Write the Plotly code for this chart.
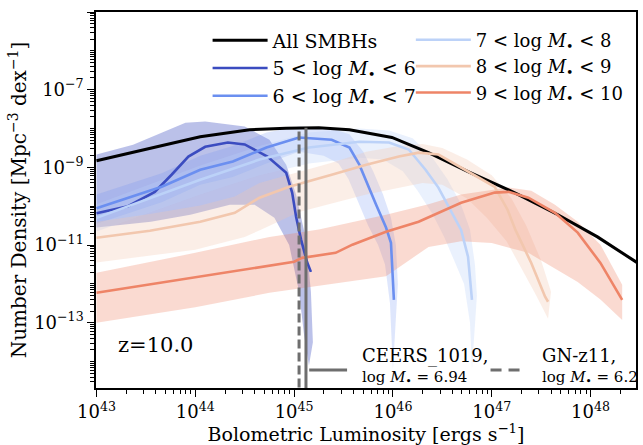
import plotly.graph_objects as go

# ---------------- data (log10 values) ----------------
all_L   = [43.0, 43.37, 43.71, 44.05, 44.55, 44.92, 45.25, 45.56, 45.99, 46.36, 46.76, 47.17, 47.27, 47.67, 48.07, 48.47]
all_phi = [-8.83, -8.62, -8.41, -8.21, -8.03, -7.99, -7.98, -8.03, -8.23, -8.62, -9.11, -9.58, -9.70, -10.22, -10.79, -11.45]

m56_L   = [43.0, 43.32, 43.59, 43.76, 43.93, 44.10, 44.33, 44.50, 44.73, 44.92, 44.98, 45.02, 45.07, 45.13, 45.17]
m56_phi = [-10.18, -10.0, -9.63, -9.19, -8.72, -8.47, -8.36, -8.41, -8.72, -9.14, -9.65, -10.27, -10.86, -11.43, -11.69]
m56_hi_L   = [43.0, 43.37, 43.9, 44.1, 44.5, 44.75, 44.92, 45.02, 45.12, 45.17, 45.19]
m56_hi_phi = [-8.67, -8.42, -7.85, -7.82, -7.95, -8.29, -8.93, -9.7, -10.86, -12.2, -13.5]
m56_lo_L   = [43.0, 43.55, 43.95, 44.35, 44.6, 44.8, 44.95, 45.05, 45.1, 45.15]
m56_lo_phi = [-10.55, -10.4, -10.22, -9.96, -9.96, -10.3, -11.0, -12.2, -13.3, -14.1]

m67_L   = [43.0, 43.66, 44.05, 44.38, 44.72, 45.05, 45.38, 45.56, 45.66, 45.73, 45.83, 45.93, 45.98, 46.01]
m67_phi = [-10.05, -9.5, -9.06, -8.85, -8.49, -8.23, -8.29, -8.49, -8.93, -9.37, -9.96, -10.55, -10.94, -12.41]
m67_hi_L   = [43.0, 43.66, 44.05, 44.38, 44.72, 45.05, 45.38, 45.56, 45.7, 45.8, 45.9, 45.98, 46.03, 46.05]
m67_hi_phi = [-9.7, -9.15, -8.7, -8.45, -8.1, -7.95, -8.0, -8.15, -8.6, -9.1, -9.7, -10.3, -11.0, -12.0]
m67_lo_L   = [43.0, 43.66, 44.05, 44.38, 44.72, 45.05, 45.3, 45.45, 45.55, 45.65, 45.75, 45.85, 45.92, 45.97, 46.0]
m67_lo_phi = [-10.45, -9.9, -9.45, -9.25, -8.9, -8.6, -8.7, -8.9, -9.3, -9.9, -10.5, -11.0, -11.5, -12.5, -14.2]

m78_L   = [43.0, 44.05, 44.65, 45.15, 45.66, 45.96, 46.16, 46.33, 46.46, 46.56, 46.69, 46.76, 46.80]
m78_phi = [-10.3, -9.32, -8.80, -8.49, -8.34, -8.36, -8.54, -9.06, -9.52, -10.01, -10.61, -11.30, -12.41]
m78_hi_L   = [43.0, 44.05, 44.65, 45.15, 45.66, 45.96, 46.2, 46.4, 46.55, 46.68, 46.78, 46.83, 46.85]
m78_hi_phi = [-9.95, -8.95, -8.45, -8.1, -8.0, -8.05, -8.25, -8.75, -9.3, -9.9, -10.6, -11.5, -12.3]
m78_lo_L   = [43.0, 44.05, 44.65, 45.15, 45.66, 45.9, 46.1, 46.25, 46.4, 46.52, 46.62, 46.72, 46.78, 46.8]
m78_lo_phi = [-10.65, -9.7, -9.2, -8.9, -8.75, -8.8, -9.1, -9.6, -10.2, -10.8, -11.4, -12.0, -13.0, -14.2]

m89_L   = [43.0, 43.54, 44.05, 44.40, 44.65, 44.95, 45.38, 45.73, 46.06, 46.26, 46.46, 46.69, 47.03, 47.16, 47.24, 47.40, 47.54, 47.57]
m89_phi = [-10.81, -10.63, -10.40, -10.17, -9.78, -9.50, -9.19, -8.93, -8.72, -8.62, -8.67, -9.01, -9.50, -10.09, -10.61, -11.46, -12.33, -12.46]
m89_hi_L   = [43.0, 43.54, 44.05, 44.40, 44.65, 44.95, 45.38, 45.73, 46.06, 46.3, 46.5, 46.75, 47.0, 47.2, 47.35, 47.5, 47.6]
m89_hi_phi = [-10.4, -10.2, -9.98, -9.75, -9.4, -9.18, -8.88, -8.6, -8.45, -8.4, -8.5, -8.8, -9.2, -9.8, -10.5, -11.4, -12.2]
m89_lo_L   = [43.0, 44.0, 44.5, 44.67, 45.05, 45.73, 46.3, 46.5, 46.75, 46.95, 47.15, 47.3, 47.45, 47.57]
m89_lo_phi = [-11.45, -11.12, -10.79, -10.6, -10.15, -9.7, -9.4, -9.45, -9.8, -10.3, -10.9, -11.6, -12.3, -12.9]

m910_L   = [43.0, 44.05, 45.0, 45.08, 45.42, 45.59, 45.93, 46.26, 46.69, 47.03, 47.17, 47.37, 47.64, 47.87, 48.10, 48.32]
m910_phi = [-12.23, -11.82, -11.43, -11.33, -11.20, -10.99, -10.66, -10.40, -9.91, -9.65, -9.63, -9.78, -10.17, -10.68, -11.46, -12.41]
m910_hi_L   = [43.0, 44.0, 44.75, 45.25, 45.93, 46.36, 46.69, 47.17, 47.4, 47.64, 47.87, 48.10, 48.32]
m910_hi_phi = [-11.71, -11.2, -10.79, -10.6, -10.22, -9.95, -9.70, -9.52, -9.6, -9.96, -10.4, -10.99, -12.02]
m910_lo_L   = [43.0, 44.0, 44.75, 45.25, 45.93, 46.36, 46.69, 47.0, 47.37, 47.87, 48.1, 48.32]
m910_lo_phi = [-13.0, -12.6, -12.23, -12.05, -11.8, -11.05, -10.9, -10.95, -11.2, -11.95, -12.4, -12.93]

labels = ["All SMBHs",
          "5 < log <i>M</i><sub>•</sub> < 6",
          "6 < log <i>M</i><sub>•</sub> < 7",
          "7 < log <i>M</i><sub>•</sub> < 8",
          "8 < log <i>M</i><sub>•</sub> < 9",
          "9 < log <i>M</i><sub>•</sub> < 10"]

ceers_logL = 45.12
gnz11_logL = 45.05
source_top_logphi = -7.98
bottom_logphi = -15.0

x_ticks = [43, 44, 45, 46, 47, 48]
y_ticks = [-5, -7, -9, -11, -13]

# ---------------- styling ----------------
FONT = "DejaVu Serif"
line_colors = ["#000000", "#3b4cc0", "#6b8ff0", "#bcd2f8", "#f2c7ae", "#ee8467"]
band_colors = [None,
               "rgba(59,76,192,0.35)",
               "rgba(107,143,240,0.22)",
               "rgba(185,208,249,0.30)",
               "rgba(242,200,176,0.30)",
               "rgba(240,132,103,0.30)"]

def p10(v):
    return [10 ** a for a in v]

fig = go.Figure()

series = [
    (all_L, all_phi, None),
    (m56_L, m56_phi, (m56_hi_L, m56_hi_phi, m56_lo_L, m56_lo_phi)),
    (m67_L, m67_phi, (m67_hi_L, m67_hi_phi, m67_lo_L, m67_lo_phi)),
    (m78_L, m78_phi, (m78_hi_L, m78_hi_phi, m78_lo_L, m78_lo_phi)),
    (m89_L, m89_phi, (m89_hi_L, m89_hi_phi, m89_lo_L, m89_lo_phi)),
    (m910_L, m910_phi, (m910_hi_L, m910_hi_phi, m910_lo_L, m910_lo_phi)),
]

# bands
for i, (L, phi, band) in enumerate(series):
    if band is None:
        continue
    hL, hP, lL, lP = band
    xs = p10(hL) + p10(lL[::-1])
    ys = p10(hP) + p10(lP[::-1])
    fig.add_trace(go.Scatter(x=xs, y=ys, mode="lines", fill="toself",
                             fillcolor=band_colors[i], line=dict(width=0),
                             showlegend=False, hoverinfo="skip"))

# lines
for i, (L, phi, band) in enumerate(series):
    fig.add_trace(go.Scatter(x=p10(L), y=p10(phi), mode="lines",
                             line=dict(color=line_colors[i], width=3 if i == 0 else 2.6),
                             name=labels[i],
                             legend="legend" if i < 3 else "legend2"))

# source luminosity markers
fig.add_trace(go.Scatter(x=[10 ** ceers_logL] * 2, y=[10 ** bottom_logphi, 10 ** source_top_logphi],
                         mode="lines", line=dict(color="#6e6e6e", width=3),
                         showlegend=False, hoverinfo="skip"))
fig.add_trace(go.Scatter(x=[10 ** gnz11_logL] * 2, y=[10 ** bottom_logphi, 10 ** source_top_logphi],
                         mode="lines", line=dict(color="#6e6e6e", width=3, dash="9px,4px"),
                         showlegend=False, hoverinfo="skip"))

# ticks
x_minor = [k * 10.0 ** n for n in range(42, 49) for k in range(2, 10)]
y_minor = [k * 10.0 ** n for n in range(-16, -4) for k in range(1, 10)
           if not (k == 1 and n in y_ticks)]

fig.update_xaxes(type="log", range=[43 - 0.005, 48.46],
                 tickvals=[10.0 ** t for t in x_ticks],
                 ticktext=[f"10<sup>{t}</sup>" for t in x_ticks],
                 ticks="outside", ticklen=7, tickwidth=1.3, tickcolor="black",
                 minor=dict(tickmode="array", tickvals=x_minor, ticks="outside",
                            ticklen=4, tickwidth=1, tickcolor="black", showgrid=False),
                 showline=True, linecolor="black", linewidth=1.5, mirror=True,
                 showgrid=False, zeroline=False,
                 tickfont=dict(family=FONT, size=18, color="black"),
                 title=dict(text="Bolometric Luminosity [ergs s<sup>−1</sup>]",
                            font=dict(family=FONT, size=19, color="black"), standoff=2))
fig.update_yaxes(type="log", range=[-14.68, -5.0],
                 tickvals=[10.0 ** t for t in y_ticks],
                 ticktext=[f"10<sup>−{-t}</sup>" for t in y_ticks],
                 ticks="outside", ticklen=7, tickwidth=1.3, tickcolor="black",
                 minor=dict(tickmode="array", tickvals=y_minor, ticks="outside",
                            ticklen=4, tickwidth=1, tickcolor="black", showgrid=False),
                 showline=True, linecolor="black", linewidth=1.5, mirror=True,
                 showgrid=False, zeroline=False,
                 tickfont=dict(family=FONT, size=18, color="black"),
                 title=dict(text="Number Density [Mpc<sup>−3</sup> dex<sup>−1</sup>]",
                            font=dict(family=FONT, size=20, color="black"), standoff=2))

# bottom legend for the two sources (paper coords)
def px(x):
    return (x - 96) / 542.0

def py(y):
    return (388 - y) / 375.5

fig.add_shape(type="line", xref="paper", yref="paper", x0=px(310), x1=px(348), y0=py(370), y1=py(370),
              line=dict(color="#6e6e6e", width=3))
fig.add_shape(type="line", xref="paper", yref="paper", x0=px(492), x1=px(524), y0=py(370), y1=py(370),
              line=dict(color="#6e6e6e", width=3, dash="11px,7px"))
ann = [
    (361, 356, "CEERS_1019,", 18),
    (361, 378, "log <i>M</i><sub>•</sub> = 6.94", 15),
    (542, 356, "GN-z11,", 18),
    (542, 378, "log <i>M</i><sub>•</sub> = 6.2", 15),
    (116, 345, "z=10.0", 21),
]
for x, y, t, s in ann:
    fig.add_annotation(xref="paper", yref="paper", x=px(x), y=py(y), text=t, showarrow=False,
                       xanchor="left", yanchor="middle",
                       font=dict(family=FONT, size=s, color="black"))

fig.update_layout(
    width=643, height=445,
    margin=dict(l=96, r=5, t=12, b=57),
    plot_bgcolor="white", paper_bgcolor="white",
    legend=dict(x=px(208), y=py(22), xanchor="left", yanchor="top",
                bgcolor="rgba(0,0,0,0)", font=dict(family=FONT, size=19, color="black"),
                itemwidth=55),
    legend2=dict(x=px(412), y=py(22), xanchor="left", yanchor="top",
                 bgcolor="rgba(0,0,0,0)", font=dict(family=FONT, size=18, color="black"),
                 itemwidth=55),
)

fig.write_html("out.html")
